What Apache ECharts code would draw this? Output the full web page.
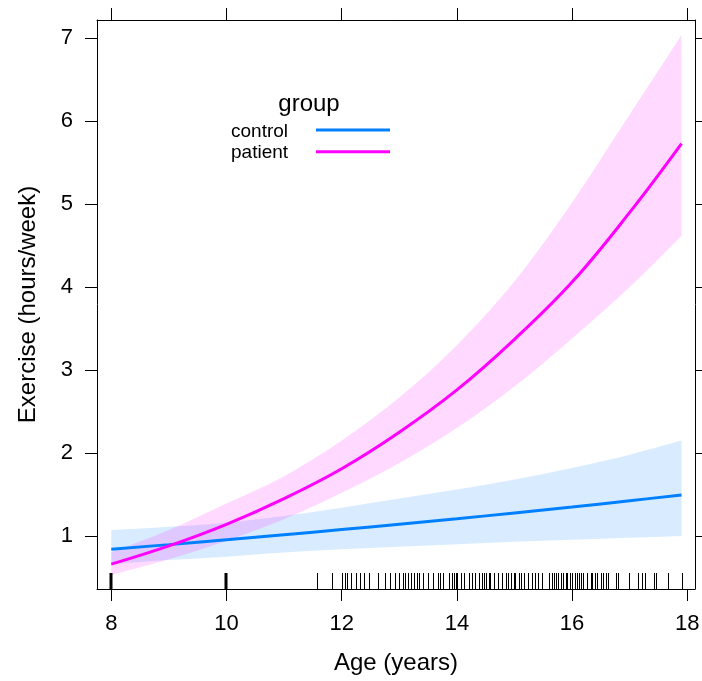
<!DOCTYPE html>
<html>
<head>
<meta charset="utf-8">
<script src="https://cdn.jsdelivr.net/npm/echarts@6/dist/echarts.min.js"></script>
<style>html,body{margin:0;padding:0;background:#fff}#c{width:702px;height:681px}</style>
</head>
<body>
<div id="c"></div>
<script>
// ---- data ----
const ages = [8, 9, 10, 11, 12, 13, 14, 15, 16, 17, 17.9];
const controlFit   = [0.84, 0.895, 0.953, 1.013, 1.076, 1.14, 1.207, 1.277, 1.349, 1.424, 1.494];
const controlLower = [0.66, 0.71, 0.75, 0.80, 0.84, 0.87, 0.90, 0.93, 0.955, 0.978, 1.0];
const controlUpper = [1.07, 1.11, 1.16, 1.24, 1.34, 1.45, 1.56, 1.68, 1.82, 1.98, 2.15];
const patientFit   = [0.66, 0.88, 1.14, 1.45, 1.81, 2.25, 2.76, 3.37, 4.06, 4.90, 5.73];
const patientLower = [0.53, 0.72, 0.94, 1.20, 1.52, 1.88, 2.30, 2.80, 3.38, 4.00, 4.62];
const patientUpper = [0.80, 1.07, 1.39, 1.72, 2.15, 2.67, 3.30, 4.07, 5.02, 6.08, 7.04];
const groups = ['control', 'patient'];
const xTicks = [8, 10, 12, 14, 16, 18];
const yTicks = [1, 2, 3, 4, 5, 6, 7];
const rugAges = [8, 8, 8, 8, 8, 10, 10, 10, 10, 10,
  11.58, 11.83, 12, 12.05, 12.1, 12.17, 12.24, 12.31, 12.38, 12.47, 12.63, 12.75, 12.84, 12.92,
  13, 13.06, 13.1, 13.15, 13.2, 13.25, 13.31, 13.35, 13.42, 13.5, 13.58, 13.67, 13.71, 13.76,
  13.86, 13.91, 13.95, 13.98, 14, 14.08, 14.13, 14.21, 14.27, 14.31, 14.38, 14.43, 14.47, 14.5,
  14.55, 14.58, 14.65, 14.71, 14.78, 14.85, 14.88, 14.94, 14.99, 15.01, 15.07, 15.11, 15.17,
  15.23, 15.3, 15.36, 15.41, 15.47, 15.6, 15.65, 15.69, 15.72, 15.76, 15.81, 15.85, 15.89,
  15.92, 15.96, 15.99, 16.05, 16.09, 16.12, 16.15, 16.19, 16.26, 16.32, 16.35, 16.4, 16.44,
  16.5, 16.53, 16.59, 16.62, 16.77, 16.8, 16.98, 17.14, 17.22, 17.27, 17.42, 17.45, 17.67, 17.91];

// ---- helpers ----
const FONT = '"Liberation Sans", Arial, Helvetica, sans-serif';
const COLORS = { control: '#0080FF', patient: '#FF00FF' };
const xMin = 7.752, xMax = 18.134, yMin = 0.36, yMax = 7.22;

function spline(P) {
  let s = '';
  for (let i = 0; i < P.length - 1; i++) {
    const p0 = P[Math.max(i - 1, 0)], p1 = P[i], p2 = P[i + 1], p3 = P[Math.min(i + 2, P.length - 1)];
    const c1 = [p1[0] + (p2[0] - p0[0]) / 6, p1[1] + (p2[1] - p0[1]) / 6];
    const c2 = [p2[0] - (p3[0] - p1[0]) / 6, p2[1] - (p3[1] - p1[1]) / 6];
    s += ' C' + c1[0] + ' ' + c1[1] + ' ' + c2[0] + ' ' + c2[1] + ' ' + p2[0] + ' ' + p2[1];
  }
  return s;
}
function bandRenderer(fill) {
  return function (params, api) {
    if (params.dataIndexInside !== 0) return null;
    const n = params.dataInsideLength;
    const up = [], lo = [];
    for (let i = 0; i < n; i++) {
      const x = api.value(0, i);
      lo.push(api.coord([x, api.value(1, i)]));
      up.push(api.coord([x, api.value(2, i)]));
    }
    const loR = lo.slice().reverse();
    const d = 'M' + up[0][0] + ' ' + up[0][1] + spline(up) +
      ' L' + loR[0][0] + ' ' + loR[0][1] + spline(loR) + ' Z';
    return { type: 'path', shape: { pathData: d }, style: { fill: fill }, silent: true };
  };
}
function bandData(lo, hi) { return ages.map((a, i) => [a, lo[i], hi[i]]); }
function fitData(v) { return ages.map((a, i) => [a, v[i]]); }

const rugCounts = {};
rugAges.forEach(a => { rugCounts[a] = (rugCounts[a] || 0) + 1; });
const rugData = Object.keys(rugCounts).map(k => [Number(k), rugCounts[k]]);

const axisCommon = {
  type: 'value', splitLine: { show: false },
  axisLine: { show: true, onZero: false, lineStyle: { color: '#000', width: 1 } },
  axisTick: { show: true, inside: false, length: 12, lineStyle: { color: '#000', width: 1 } }
};

const option = {
  animation: false,
  backgroundColor: '#fff',
  grid: { left: 97, top: 20, width: 598, height: 569, containLabel: false, outerBoundsMode: 'none' },
  xAxis: [
    Object.assign({}, axisCommon, {
      position: 'bottom', min: xMin, max: xMax,
      axisTick: Object.assign({}, axisCommon.axisTick, { customValues: xTicks }),
      axisLabel: { show: true, customValues: xTicks, margin: 24, fontSize: 22, color: '#000', fontFamily: FONT },
      name: 'Age (years)', nameLocation: 'middle', nameGap: 62,
      nameTextStyle: { fontSize: 24, color: '#000', fontFamily: FONT }
    }),
    Object.assign({}, axisCommon, {
      position: 'top', min: xMin, max: xMax,
      axisTick: Object.assign({}, axisCommon.axisTick, { customValues: xTicks }),
      axisLabel: { show: false }
    })
  ],
  yAxis: [
    Object.assign({}, axisCommon, {
      position: 'left', min: yMin, max: yMax,
      axisTick: Object.assign({}, axisCommon.axisTick, { customValues: yTicks }),
      axisLabel: { show: true, customValues: yTicks, margin: 24, fontSize: 22, color: '#000', fontFamily: FONT },
      name: 'Exercise (hours/week)', nameLocation: 'middle', nameRotate: 90, nameGap: 57,
      nameTextStyle: { fontSize: 24, color: '#000', fontFamily: FONT }
    }),
    Object.assign({}, axisCommon, {
      position: 'right', min: yMin, max: yMax,
      axisTick: Object.assign({}, axisCommon.axisTick, { customValues: yTicks }),
      axisLabel: { show: false }
    })
  ],
  series: [
    { type: 'custom', name: 'control band', renderItem: bandRenderer('rgba(0,128,255,0.15)'),
      data: bandData(controlLower, controlUpper), encode: { x: 0, y: [1, 2] }, silent: true },
    { type: 'line', name: groups[0], data: fitData(controlFit), smooth: 0.4, showSymbol: false,
      lineStyle: { color: COLORS.control, width: 3 }, itemStyle: { color: COLORS.control }, silent: true },
    { type: 'custom', name: 'patient band', renderItem: bandRenderer('rgba(255,0,255,0.15)'),
      data: bandData(patientLower, patientUpper), encode: { x: 0, y: [1, 2] }, silent: true },
    { type: 'line', name: groups[1], data: fitData(patientFit), smooth: 0.4, showSymbol: false,
      lineStyle: { color: COLORS.patient, width: 3 }, itemStyle: { color: COLORS.patient }, silent: true },
    { type: 'custom', name: 'rug', data: rugData, encode: { x: 0 }, silent: true,
      renderItem: function (params, api) {
        const p = api.coord([api.value(0), yMin]);
        const heavy = api.value(1) > 2;
        const x = heavy ? Math.round(p[0]) : Math.round(p[0]) + 0.5;
        return { type: 'line', shape: { x1: x, y1: p[1], x2: x, y2: p[1] - 16 },
          style: { stroke: '#000', lineWidth: heavy ? 3 : 1 } };
      } }
  ],
  graphic: [
    { type: 'text', x: 309, y: 104, silent: true,
      style: { text: 'group', fill: '#000', fontSize: 24, fontFamily: FONT, align: 'center', textAlign: 'center', verticalAlign: 'middle', textVerticalAlign: 'middle' } },
    { type: 'text', x: 231, y: 131.5, silent: true,
      style: { text: groups[0], fill: '#000', fontSize: 19, fontFamily: FONT, align: 'left', textAlign: 'left', verticalAlign: 'middle', textVerticalAlign: 'middle' } },
    { type: 'text', x: 231, y: 152.5, silent: true,
      style: { text: groups[1], fill: '#000', fontSize: 19, fontFamily: FONT, align: 'left', textAlign: 'left', verticalAlign: 'middle', textVerticalAlign: 'middle' } },
    { type: 'line', silent: true, shape: { x1: 316, y1: 130, x2: 390, y2: 130 },
      style: { stroke: COLORS.control, lineWidth: 3 } },
    { type: 'line', silent: true, shape: { x1: 316, y1: 151.7, x2: 390, y2: 151.7 },
      style: { stroke: COLORS.patient, lineWidth: 3 } }
  ]
};

const chart = echarts.init(document.getElementById('c'), null, { renderer: 'canvas' });
chart.setOption(option);
</script>
</body>
</html>
